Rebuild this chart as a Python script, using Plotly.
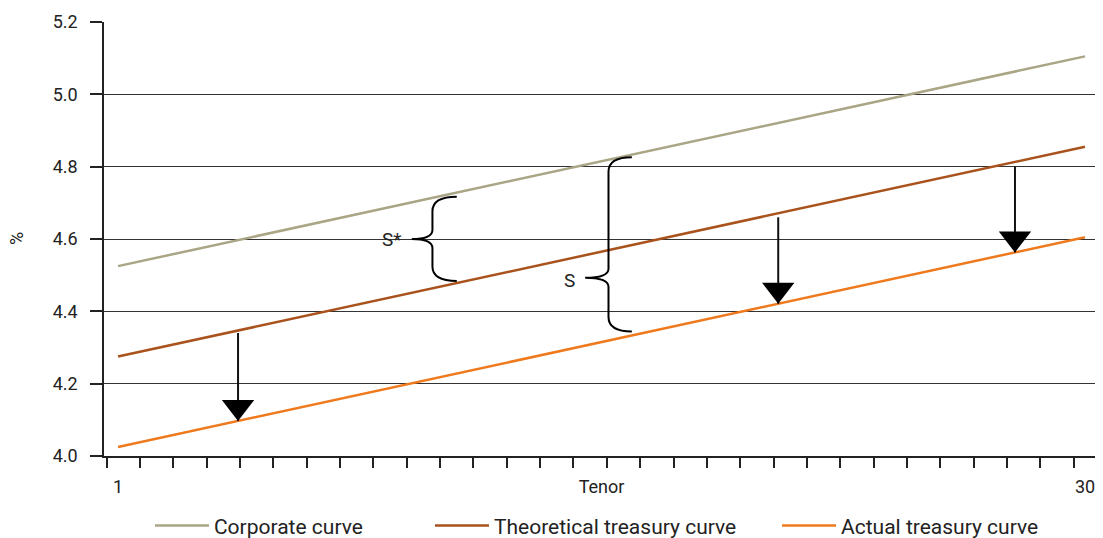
import plotly.graph_objects as go

# ---- data ----
tenor = [1, 30]
corporate = [4.525, 5.105]
theoretical = [4.275, 4.855]
actual = [4.025, 4.605]

arrow_tenor = [4.6, 20.8, 27.9]
arrow_from = [4.34, 4.66, 4.80]

def actual_at(t):
    return actual[0] + (actual[1] - actual[0]) * (t - tenor[0]) / (tenor[1] - tenor[0])

arrow_to = [actual_at(t) for t in arrow_tenor]

# braces: (end x, vertical x, tip x, top y, mid y, bottom y)
brace_sstar = dict(xe=11.16, xv=10.43, xt=9.81, yt=4.717, ym=4.600, yb=4.484)
brace_s = dict(xe=16.41, xv=15.71, xt=15.01, yt=4.826, ym=4.493, yb=4.344)
label_sstar = dict(x=9.2, y=4.598, text="S*")
label_s = dict(x=14.55, y=4.486, text="S")

x_ticks = [1, 15.5, 30]
x_ticktext = ["1", "Tenor", "30"]
y_ticks = [4.0, 4.2, 4.4, 4.6, 4.8, 5.0, 5.2]

COL_CORP = "#A9A585"
COL_THEO = "#A9521C"
COL_ACT = "#EF7A1E"
FONT = "Roboto"

fig = go.Figure()
fig.add_trace(go.Scatter(x=tenor, y=corporate, mode="lines", name="Corporate curve",
                         line=dict(color=COL_CORP, width=2.5), legend="legend"))
fig.add_trace(go.Scatter(x=tenor, y=theoretical, mode="lines", name="Theoretical treasury curve",
                         line=dict(color=COL_THEO, width=2.5), legend="legend2"))
fig.add_trace(go.Scatter(x=tenor, y=actual, mode="lines", name="Actual treasury curve",
                         line=dict(color=COL_ACT, width=2.5), legend="legend3"))

for t, y0, y1 in zip(arrow_tenor, arrow_from, arrow_to):
    fig.add_trace(go.Scatter(
        x=[t, t], y=[y0, y1], mode="lines+markers", showlegend=False, hoverinfo="skip",
        line=dict(color="#111111", width=2),
        marker=dict(symbol="triangle-up", size=[0, 28], angle=180, standoff=[0, 14],
                    color="#000000", opacity=1, line=dict(width=0)),
    ))


def brace_path(b, r1=0.04, r2=0.025):
    xe, xv, xt, yt, ym, yb = b["xe"], b["xv"], b["xt"], b["yt"], b["ym"], b["yb"]
    return (f"M{xe},{yt} Q{xv},{yt} {xv},{yt - r1} L{xv},{ym + r2} "
            f"Q{xv},{ym} {xt},{ym} Q{xv},{ym} {xv},{ym - r2} "
            f"L{xv},{yb + r1} Q{xv},{yb} {xe},{yb}")


for b in (brace_sstar, brace_s):
    fig.add_shape(type="path", path=brace_path(b), xref="x", yref="y",
                  line=dict(color="black", width=2))

for lab in (label_sstar, label_s):
    fig.add_annotation(x=lab["x"], y=lab["y"], text=lab["text"], showarrow=False,
                       font=dict(family=FONT, size=19, color="#222"))

fig.add_annotation(x=0, xref="paper", xshift=-88, xanchor="center", y=4.6, yref="y",
                   text="%", textangle=-90, showarrow=False,
                   font=dict(family=FONT, size=18, color="#222"))

leg_common = dict(orientation="h", xanchor="left", y=-0.161, yanchor="middle",
                  font=dict(size=21, color="#222"), itemwidth=54,
                  bgcolor="rgba(0,0,0,0)")

# page body has an 8px margin: figure is sized/offset to compensate
fig.update_layout(
    width=1095, height=530,
    margin=dict(l=96, r=0, t=14, b=82, autoexpand=False),
    paper_bgcolor="white", plot_bgcolor="white",
    font=dict(family=FONT, size=18, color="#222"),
    showlegend=True,
    legend=dict(x=0.046, **leg_common),
    legend2=dict(x=0.3263, **leg_common),
    legend3=dict(x=0.6737, **leg_common),
    xaxis=dict(range=[0.58, 30.54], tickmode="array", tickvals=x_ticks, ticktext=x_ticktext,
               ticks="outside", ticklen=14, tickcolor="rgba(0,0,0,0)", automargin=False,
               showgrid=False, zeroline=False, showline=True, linecolor="#222", linewidth=1.5,
               minor=dict(tickmode="linear", tick0=1.66, dtick=1, ticks="outside",
                          ticklen=10, tickcolor="#222", tickwidth=1.5, showgrid=False),
               tickfont=dict(size=18)),
    yaxis=dict(range=[4.0, 5.2], tickmode="array", tickvals=y_ticks,
               ticktext=[f"{v:.1f}" for v in y_ticks], automargin=False,
               ticks="outside", ticklen=12, tickcolor="#222", tickwidth=1.5,
               ticklabelstandoff=9,
               showgrid=True, gridcolor="#333", gridwidth=1,
               zeroline=False, showline=True, linecolor="#222", linewidth=1.5,
               tickfont=dict(size=18)),
)

fig.write_html("out.html")
